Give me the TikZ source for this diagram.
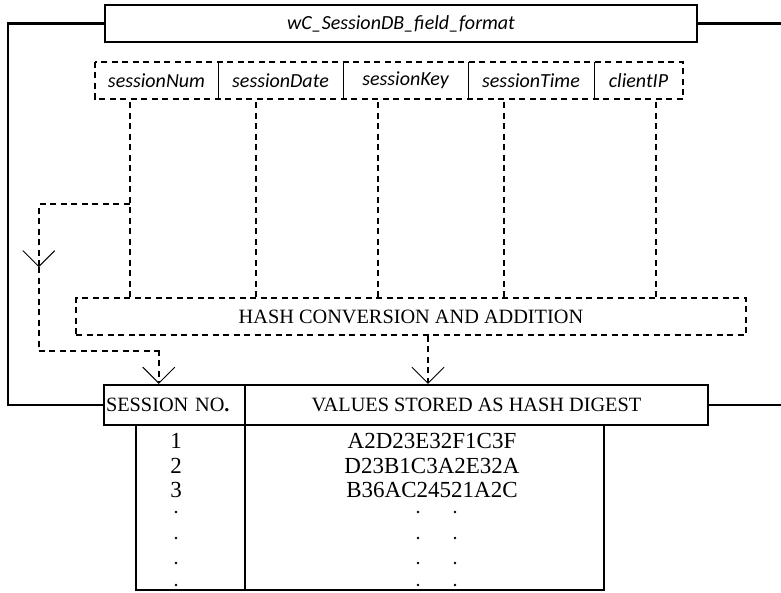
\documentclass[tikz,border=0pt]{standalone}
\usepackage{fontspec}
\setmainfont{Liberation Serif}
\newfontfamily\calib{Carlito}
\usetikzlibrary{arrows.meta,calc}
\begin{document}
\begin{tikzpicture}[x=1pt,y=-1pt,
  solidbox/.style={draw, line width=2.4pt, inner sep=0pt, anchor=center},
  fieldlbl/.style={inner sep=0pt, minimum height=37pt, font=\calib\itshape\fontsize{20}{20}\selectfont},
  dl/.style={line width=1.5pt, dash pattern=on 6pt off 4.5pt},
  conn/.style={line width=2.4pt},
  vtip/.style={-{Straight Barb[length=16pt,width=32pt,line width=0.9pt]}},
  sertext/.style={font=\fontsize{20.3}{20.3}\selectfont},
  celltext/.style={inner sep=0pt, font=\fontsize{23}{23}\selectfont}
]
\useasboundingbox (0,0) rectangle (781,592);
% top box
\node[solidbox, minimum width=592pt, minimum height=37pt, font=\calib\itshape\fontsize{20}{20}\selectfont] (top) at (401,23.5) {wC\_SessionDB\_field\_format};
% fields
\node[fieldlbl, minimum width=123pt] (f1) at (156.5,80.5) {sessionNum};
\node[fieldlbl, minimum width=125pt] (f2) at (280.5,80.5) {sessionDate};
\node[fieldlbl, minimum width=125pt] (f3) at (405.5,80.5) {sessionKey};
\node[fieldlbl, minimum width=126pt] (f4) at (531,80.5) {sessionTime};
\node[fieldlbl, minimum width=89pt] (f5) at (638.5,80.5) {clientIP};
\draw[dl] (f1.north west) rectangle (f5.south east);
\foreach \f in {f1,f2,f3,f4} \draw[line width=1pt] (\f.north east) -- (\f.south east);
% hash box
\node[draw, dl, inner sep=0pt, minimum width=670pt, minimum height=37pt, sertext] (hash) at (411,316.5) {HASH CONVERSION AND ADDITION};
% header
\node[solidbox, minimum width=141pt, minimum height=40pt, sertext, text width=137pt, align=left] (sess) at (174.5,405) {SESSION NO\textbf{.}};
\node[solidbox, minimum width=463pt, minimum height=40pt, sertext] (vals) at (476.5,405) {VALUES STORED AS HASH DIGEST};
% body
\node[solidbox, minimum width=109pt, minimum height=165pt] (bl) at (190.5,507.5) {};
\node[solidbox, minimum width=359pt, minimum height=165pt] (br) at (424.5,507.5) {};
% body text
\node[celltext] (n1) at (176,441) {1};
\node[celltext] (n2) at (176,465.5) {2};
\node[celltext] (n3) at (176,490) {3};
\node[celltext] (h1) at (432,441) {A2D23E32F1C3F};
\node[celltext] (h2) at (432,465.5) {D23B1C3A2E32A};
\node[celltext] (h3) at (432,490) {B36AC24521A2C};
\foreach \y in {512,538,563,585} {
  \fill (176,\y) circle (1.4pt);
  \fill (418,\y) circle (1.4pt);
  \fill (455,\y) circle (1.4pt);
}
% solid connectors
\coordinate (re1) at (781,23.5);
\coordinate (re2) at (781,405);
\draw[conn] (top.west) -- ++(-96,0) |- (sess.west);
\draw[conn] (top.east) -- (re1);
\draw[conn] (vals.east) -- (re2);
% dashed lines from fields to hash box
\coordinate (d1) at ($(f1.south west)+(35,3)$);
\coordinate (d2) at ($(f2.south west)+(38,3)$);
\coordinate (d3) at ($(f3.south west)+(35,3)$);
\coordinate (d4) at ($(f4.south west)+(36,3)$);
\coordinate (d5) at ($(f5.south west)+(62,3)$);
\foreach \d in {d1,d2,d3,d4,d5} \draw[dl] (\d) -- (\d |- hash.north);
% branch to session no
\coordinate (b1) at ($(d1)+(0,102)$);
\coordinate (b2) at ($(b1)+(-91,0)$);
\coordinate (b3) at ($(b2)+(0,63)$);
\coordinate (b4) at ($(b2)+(0,147)$);
\coordinate (b5) at ($(sess.north west)+(56,-34)$);
\draw[dl, vtip] (b1) -- (b2) -- (b3);
\draw[dl] (b3) -- (b4) -| (b5);
\draw[dl, vtip] (b5) -- (b5 |- sess.north);
% hash to values
\coordinate (ha) at ($(hash.south)+(17,0)$);
\draw[dl, vtip] (ha) -- (ha |- vals.north);
\end{tikzpicture}
\end{document}
